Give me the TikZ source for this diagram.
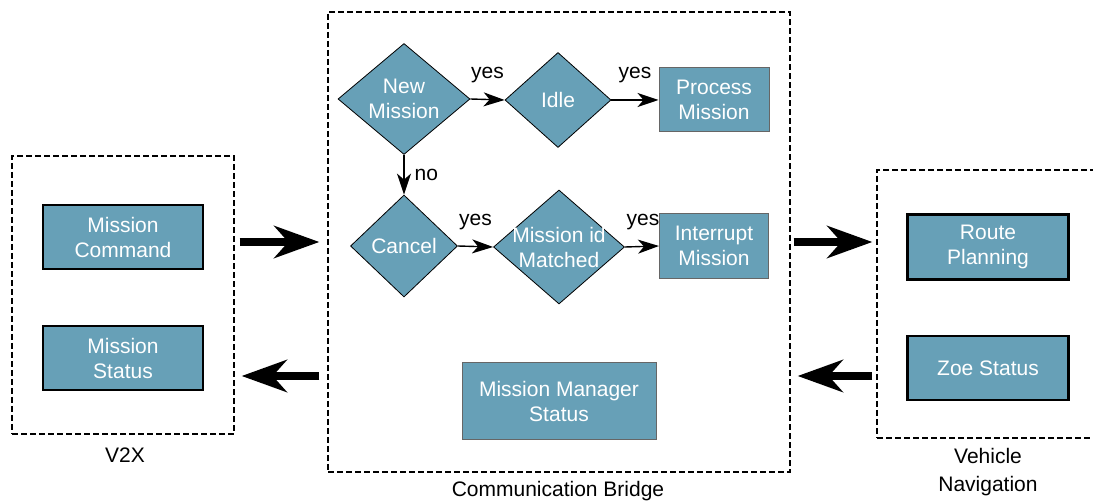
\documentclass[tikz,border=0pt]{standalone}
\usepackage{fontspec}
\setmainfont{Liberation Sans}
\usetikzlibrary{shapes.geometric,arrows.meta}
\definecolor{boxblue}{RGB}{103,160,183}
\tikzset{
  txt/.style={font=\fontsize{21}{25}\selectfont,align=center},
  outbox/.style={txt,draw,line width=2.5pt,fill=boxblue,text=white,minimum width=160pt,minimum height=64pt},
  inbox/.style={txt,draw=black!60,line width=1pt,fill=boxblue,text=white},
  decision/.style={txt,diamond,draw,line width=0.8pt,fill=boxblue,text=white,inner sep=0pt},
  frame/.style={draw,dash pattern=on 6pt off 3pt,line width=1.3pt,minimum width=0pt},
  flow/.style={line width=1.4pt,-{Stealth[length=21pt,width=14pt,inset=6pt]}},
  bigarrow/.style={line width=8pt,-{Stealth[length=45pt,width=32pt,inset=14pt]}},
  lab/.style={txt,inner sep=2pt}
}
\begin{document}
\begin{tikzpicture}[x=1pt,y=-1pt]
\useasboundingbox (0,0) rectangle (1093,502);
\node[frame,minimum width=222pt,minimum height=278pt] (v2x) at (123,295) {};
\node[frame,minimum width=462pt,minimum height=460pt] (bridge) at (559,242) {};
\node[frame,minimum width=232pt,minimum height=268pt] (vnav) at (993,304) {};
\node[txt] (v2xlab) at (125,455) {V2X};
\node[txt] (bridgelab) at (558,491) {Communication Bridge};
\node[txt,font=\fontsize{21}{28}\selectfont] (vnavlab) at (988,472) {Vehicle\\Navigation};

\node[outbox] (cmd) at (123,237) {Mission\\Command};
\node[outbox] (status) at (123,358) {Mission\\Status};
\node[outbox,minimum width=161pt,minimum height=65pt] (route) at (988,247) {Route\\Planning};
\node[outbox,minimum width=161pt] (zoe) at (988,368) {Zoe Status};

\node[decision,minimum width=132pt,minimum height=111pt] (newm) at (404,99) {New\\Mission};
\node[decision,minimum width=106pt,minimum height=95pt] (idle) at (558,100) {Idle};
\node[inbox,minimum width=110pt,minimum height=64pt] (process) at (714,100) {Process\\Mission};
\node[decision,minimum width=107pt,minimum height=102pt] (cancel) at (404,246) {Cancel};
\node[decision,inner sep=-12pt,minimum width=131pt,minimum height=114pt] (matched) at (559,247) {Mission id\\Matched};
\node[inbox,minimum width=109pt,minimum height=65pt] (interrupt) at (714,246) {Interrupt\\Mission};
\node[inbox,minimum width=194pt,minimum height=77pt] (manager) at (559,401) {Mission Manager\\Status};

\draw[flow] (newm.east) -- node[lab,above=14pt] {yes} (idle.west);
\draw[flow] (idle.east) -- node[lab,above=14pt] {yes} (process.west);
\draw[flow] (newm.south) -- node[lab,right=8pt] {no} (cancel.north);
\draw[flow] (cancel.east) -- node[lab,above=14pt] {yes} (matched.west);
\draw[flow] (matched.east) -- node[lab,above=14pt,xshift=1pt] {yes} (interrupt.west);

\draw[bigarrow,shorten <=5pt,shorten >=8pt] (v2x.east |- 0,242) -- (bridge.west |- 0,242);
\draw[bigarrow,shorten <=8pt,shorten >=7pt] (bridge.west |- 0,376) -- (v2x.east |- 0,376);
\draw[bigarrow,shorten <=3pt,shorten >=4pt] (bridge.east |- 0,242) -- (vnav.west |- 0,242);
\draw[bigarrow,shorten <=4pt,shorten >=7pt] (vnav.west |- 0,376) -- (bridge.east |- 0,376);
\end{tikzpicture}
\end{document}
